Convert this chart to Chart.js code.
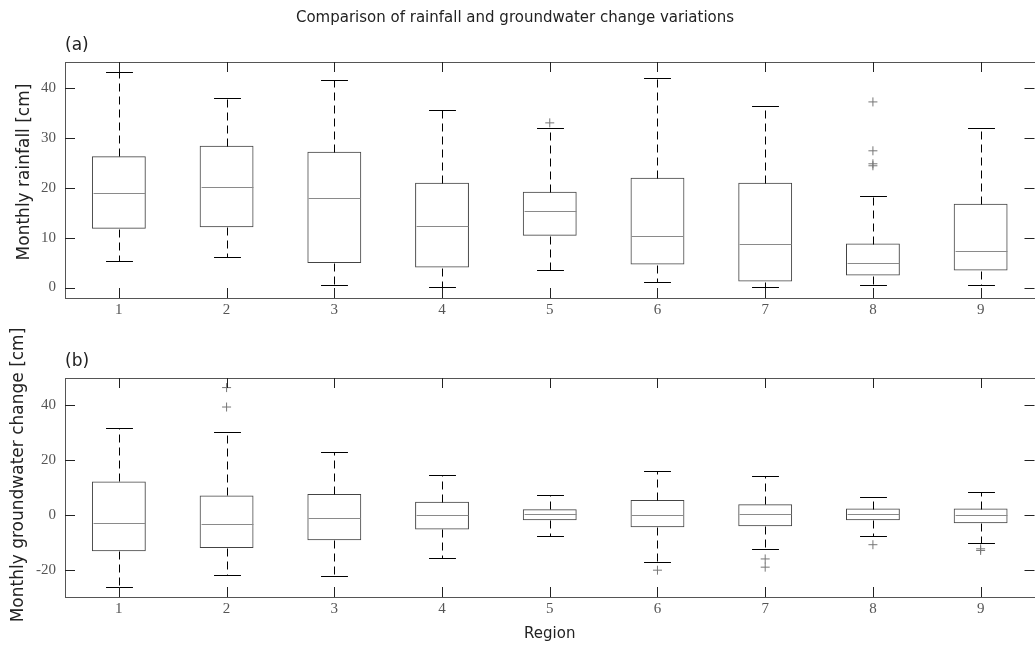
<!DOCTYPE html>
<html>
<head>
<meta charset="utf-8">
<title>Comparison of rainfall and groundwater change variations</title>
<script src="https://cdn.jsdelivr.net/npm/chart.js@4.4.1/dist/chart.umd.min.js"></script>
<style>
    html, body { margin: 0; padding: 0; background: #fff; overflow: hidden; }
    #wrap { position: relative; width: 1035px; height: 650px; overflow: hidden; }
    canvas { position: absolute; left: 0; }
    #rainChart { top: 0; }
    #gwChart { top: 320px; }
</style>
</head>
<body>
<div id="wrap">
    <canvas id="rainChart" width="1040" height="320"></canvas>
    <canvas id="gwChart" width="1040" height="330"></canvas>
</div>
<script>
const regions = ['1', '2', '3', '4', '5', '6', '7', '8', '9'];

// (a) monthly rainfall [cm]
const rainLow    = [5.4, 6.2, 0.6, 0.2, 3.6, 1.1, 0.1, 0.5, 0.6];
const rainQ1     = [11.8, 12.1, 4.9, 4.0, 10.4, 4.6, 1.2, 2.4, 3.4];
const rainMedian = [19.0, 20.1, 17.9, 12.3, 15.4, 10.4, 8.8, 4.9, 7.4];
const rainQ3     = [26.3, 28.4, 27.2, 21.0, 19.2, 22.0, 21.0, 8.8, 16.8];
const rainHigh   = [43.1, 37.9, 41.6, 35.6, 32.0, 42.0, 36.3, 18.4, 32.0];
const rainOutliers = [['5', 33.0], ['8', 37.2], ['8', 27.4], ['8', 24.8], ['8', 24.4]];
const rainTicks  = [0, 10, 20, 30, 40];

// (b) monthly groundwater change [cm]
const gwLow    = [-26.3, -22.1, -22.5, -15.7, -7.7, -17.2, -12.5, -7.7, -10.2];
const gwQ1     = [-13.3, -12.1, -9.3, -5.3, -2.0, -4.5, -4.2, -2.0, -3.1];
const gwMedian = [-3.1, -3.5, -1.3, -0.1, 0.3, -0.1, 0.3, 0.3, 0.1];
const gwQ3     = [12.2, 7.1, 7.6, 4.8, 2.1, 5.4, 3.9, 2.3, 2.3];
const gwHigh   = [31.9, 30.2, 23.1, 14.7, 7.1, 16.1, 14.2, 6.6, 8.4];
const gwOutliers = [['2', 46.5], ['2', 39.4], ['6', -20.2], ['7', -16.1], ['7', -19.1],
                    ['8', -10.9], ['9', -12.4], ['9', -13.0]];
const gwTicks  = [-20, 0, 20, 40];

const TICK_FONT = { family: 'Liberation Serif', size: 15 };
const XLABEL_FONT = { family: 'DejaVu Sans', size: 15 };

/**
 * Whiskers, caps, medians, axes frame with inward ticks, labels
 */
function makeDecor(stats) {
    return {
        id: 'boxDecor',
        afterDatasetsDraw(chart) {
            const { ctx, chartArea: a, scales: { x, y } } = chart;
            const bars = chart.getDatasetMeta(0).data;
            const line = (x1, y1, x2, y2) => {
                ctx.beginPath();
                ctx.moveTo(x1, y1);
                ctx.lineTo(x2, y2);
                ctx.stroke();
            };
            const py = v => Math.round(y.getPixelForValue(v)) + 0.5;

            ctx.save();
            ctx.lineWidth = 1;
            stats.q1.forEach((q1, i) => {
                const cx = Math.round(x.getPixelForValue(i)) + 0.5;
                const half = bars[i].width / 2;

                // dashed whiskers
                ctx.strokeStyle = '#000';
                ctx.setLineDash([8, 5]);
                line(cx, py(stats.q3[i]), cx, py(stats.high[i]));
                line(cx, py(q1), cx, py(stats.low[i]));
                ctx.setLineDash([]);

                // caps
                line(cx - half / 2, py(stats.high[i]), cx + half / 2, py(stats.high[i]));
                line(cx - half / 2, py(stats.low[i]), cx + half / 2, py(stats.low[i]));

                // median
                ctx.strokeStyle = '#8a8a8a';
                line(cx - half + 1, py(stats.median[i]), cx + half - 1, py(stats.median[i]));
            });

            // frame
            ctx.strokeStyle = '#555';
            ctx.strokeRect(Math.round(a.left) + 0.5, Math.round(a.top) + 0.5,
                           Math.round(a.width), Math.round(a.height));

            // inward tick marks on all four sides
            ctx.strokeStyle = '#222';
            regions.forEach((r, i) => {
                const cx = Math.round(x.getPixelForValue(i)) + 0.5;
                line(cx, a.top, cx, a.top + 10);
                line(cx, a.bottom - 10, cx, a.bottom);
            });
            stats.ticks.forEach(v => {
                line(a.left, py(v), a.left + 10, py(v));
                line(a.right - 10, py(v), a.right, py(v));
            });

            // panel letter, y label, figure title
            ctx.fillStyle = '#222';
            ctx.font = '17px "DejaVu Sans"';
            ctx.textAlign = 'left';
            ctx.textBaseline = 'middle';
            ctx.fillText(stats.letter, a.left, a.top - 16);

            ctx.save();
            ctx.translate(stats.yTitleX, stats.yTitleY);
            ctx.rotate(-Math.PI / 2);
            ctx.textAlign = 'center';
            ctx.fillText(stats.yTitle, 0, 0);
            ctx.restore();

            if (stats.title) {
                ctx.font = '15px "DejaVu Sans"';
                ctx.textAlign = 'center';
                ctx.fillText(stats.title, 515, 18);
            }
            ctx.restore();
        }
    };
}

function initBoxChart(canvasId, stats) {
    const ctx = document.getElementById(canvasId).getContext('2d');

    return new Chart(ctx, {
        type: 'bar',
        data: {
            labels: regions,
            datasets: [{
                type: 'bar',
                data: stats.q1.map((q, i) => [q, stats.q3[i]]),
                backgroundColor: 'rgba(0, 0, 0, 0)',
                borderColor: '#444',
                borderWidth: 1,
                borderSkipped: false,
                barPercentage: 0.5,
                categoryPercentage: 1.0,
                order: 2
            }, {
                type: 'scatter',
                data: stats.outliers.map(o => ({ x: o[0], y: o[1] })),
                pointStyle: 'cross',
                pointRadius: 4.5,
                borderColor: '#777',
                backgroundColor: '#777',
                borderWidth: 1,
                showLine: false,
                order: 1
            }]
        },
        options: {
            responsive: false,
            animation: false,
            layout: {
                padding: { top: stats.padTop, right: 3, left: 0, bottom: 0 }
            },
            plugins: {
                legend: { display: false },
                tooltip: { enabled: false },
                title: { display: false }
            },
            scales: {
                x: {
                    type: 'category',
                    offset: true,
                    grid: { display: false, drawTicks: false },
                    border: { display: false },
                    ticks: { font: TICK_FONT, color: '#555', padding: 3, maxRotation: 0 },
                    title: {
                        display: !!stats.xTitle,
                        text: stats.xTitle || '',
                        font: XLABEL_FONT,
                        color: '#222',
                        padding: { top: 0, bottom: 7 }
                    },
                    afterFit: s => { s.height = stats.xHeight; }
                },
                y: {
                    min: stats.min,
                    max: stats.max,
                    grid: { display: false, drawTicks: false },
                    border: { display: false },
                    afterBuildTicks: s => { s.ticks = stats.ticks.map(v => ({ value: v })); },
                    ticks: { font: TICK_FONT, color: '#555', padding: 9 },
                    afterFit: s => { s.width = 65; }
                }
            }
        },
        plugins: [makeDecor(stats)]
    });
}

initBoxChart('rainChart', {
    low: rainLow, q1: rainQ1, median: rainMedian, q3: rainQ3, high: rainHigh,
    outliers: rainOutliers, ticks: rainTicks,
    min: -2.1, max: 45.2,
    letter: '(a)',
    title: 'Comparison of rainfall and groundwater change variations',
    yTitle: 'Monthly rainfall [cm]',
    yTitleX: 25,
    yTitleY: 172,
    padTop: 62,
    xHeight: 22
});

initBoxChart('gwChart', {
    low: gwLow, q1: gwQ1, median: gwMedian, q3: gwQ3, high: gwHigh,
    outliers: gwOutliers, ticks: gwTicks,
    min: -30, max: 50,
    letter: '(b)',
    yTitle: 'Monthly groundwater change [cm]',
    yTitleX: 19,
    yTitleY: 155,
    xTitle: 'Region',
    padTop: 58,
    xHeight: 53
});
</script>
</body>
</html>
